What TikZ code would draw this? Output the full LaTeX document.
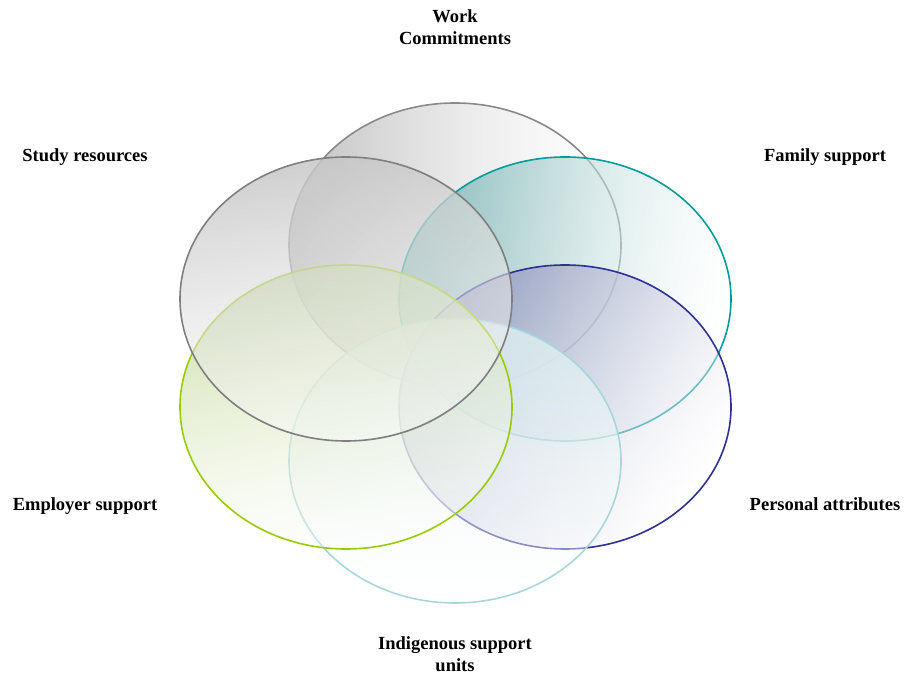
\documentclass[tikz,border=0pt]{standalone}
\usepackage{fontspec}
\setmainfont{Liberation Serif}
\usetikzlibrary{fadings}

\definecolor{workline}{HTML}{8A8A8A}
\definecolor{workfill}{HTML}{B4B4B4}
\definecolor{studyline}{HTML}{7F7F7F}
\definecolor{studyfill}{HTML}{C6C6C6}
\definecolor{familyline}{HTML}{009C9C}
\definecolor{familyfill}{HTML}{78B4B4}
\definecolor{personline}{HTML}{2E3192}
\definecolor{personfill}{HTML}{9094BE}
\definecolor{employline}{HTML}{99CC00}
\definecolor{employfill}{HTML}{C4DA9A}
\definecolor{indigline}{HTML}{A8D6DC}
\definecolor{indigfill}{HTML}{DCEEF0}

% strong on the coloured side, thin on the far side
\tikzfading[name=blobfade, top color=transparent!15, bottom color=transparent!65]

\begin{document}
\begin{tikzpicture}[x=1pt,y=1pt,
  lbl/.style={font=\bfseries\fontsize{18.5}{22}\selectfont, align=center},
  ring/.style={line width=1.6pt},
  blob/.style 2 args={top color=#1, middle color=white!72!#1, bottom color=white,
    shading angle=#2, path fading=blobfade, fading angle=#2}]
\useasboundingbox (0,0) rectangle (904,674);

% back to front; second argument turns the coloured side
\shade [blob={workfill}{90}] (455,429) ellipse [x radius=166, y radius=142];
\draw [ring, workline] (455,429) ellipse [x radius=166, y radius=142];

\shade [blob={familyfill}{80}] (565,375) ellipse [x radius=166, y radius=142];
\draw [ring, familyline] (565,375) ellipse [x radius=166, y radius=142];

\shade [blob={personfill}{55}] (565,267) ellipse [x radius=166, y radius=142];
\draw [ring, personline] (565,267) ellipse [x radius=166, y radius=142];

\shade [blob={indigfill}{0}] (455,213) ellipse [x radius=166, y radius=142];
\draw [ring, indigline] (455,213) ellipse [x radius=166, y radius=142];

\shade [blob={employfill}{15}] (346,267) ellipse [x radius=166, y radius=142];
\draw [ring, employline] (346,267) ellipse [x radius=166, y radius=142];

\shade [blob={studyfill}{10}] (346,375) ellipse [x radius=166, y radius=142];
\draw [ring, studyline] (346,375) ellipse [x radius=166, y radius=142];

% labels
\node [lbl] (work) at (455,647) {Work\\Commitments};
\node [lbl, anchor=base] (study) at (85,512) {Study resources};
\node [lbl, anchor=base] (family) at (825,512) {Family support};
\node [lbl, anchor=base] (employer) at (85,163) {Employer support};
\node [lbl, anchor=base] (personal) at (825,163) {Personal attributes};
\node [lbl] (indig) at (455,20) {Indigenous support\\units};
\end{tikzpicture}
\end{document}
